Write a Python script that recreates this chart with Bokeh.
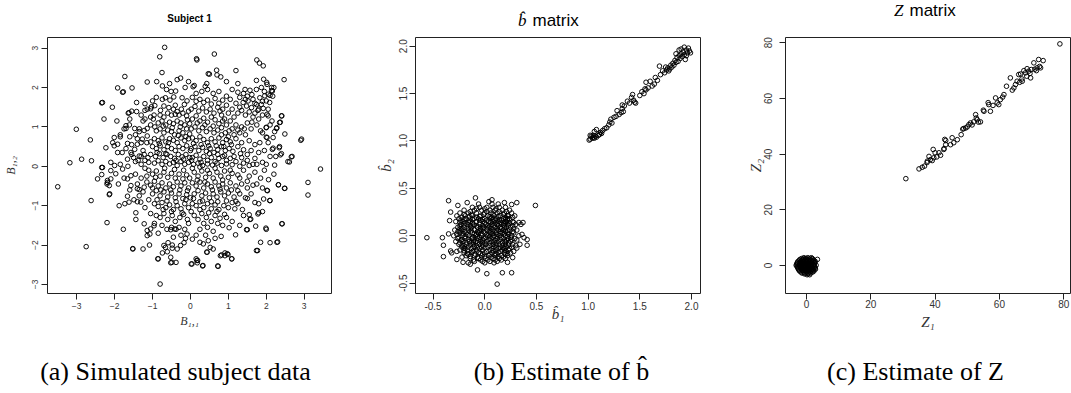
from bokeh.plotting import figure
from bokeh.layouts import row, column
from bokeh.models import FixedTicker, NumeralTickFormatter, Range1d
from bokeh.core.properties import value
from bokeh.embed import file_html
from bokeh.resources import INLINE

# ---------------- data ----------------
subject_points = [
    (-0.68, 3.02), (-0.81, 2.78), (0.16, 2.73), (0.17, 2.70), (0.63, 2.85), (1.75, 2.70), (1.82, 2.62),
    (1.92, 2.55), (-1.73, 2.28), (-0.75, 2.38), (-0.26, 2.24), (-0.35, 2.20), (1.20, 2.43), (0.70, 2.32),
    (0.80, 2.27), (0.50, 2.34), (-1.14, 2.14), (-0.89, 2.15), (0.07, 2.02), (-1.92, 1.99), (-1.54, 1.99),
    (-1.79, 1.88), (2.47, 2.20), (1.93, 2.21), (-2.34, 1.61), (-2.06, 1.50), (-2.28, 1.20), (-3.01, 0.94),
    (-2.64, 0.67), (-3.18, 0.09), (-2.87, 0.18), (-2.61, 0.14), (-3.50, -0.52), (-2.62, -0.87), (-2.34, -0.03),
    (-2.34, -0.21), (-2.19, -0.41), (-2.13, -0.70), (-2.20, -1.43), (-2.75, -2.04), (-1.77, -1.60), (-1.52, -2.09),
    (-1.25, -2.10), (-1.08, -2.00), (-0.86, -2.35), (-0.80, -2.99), (-0.52, -2.31), (-0.49, -2.44), (-0.38, -2.44),
    (0.02, -2.48), (0.32, -2.53), (0.15, -2.35), (0.19, -2.39), (0.72, -2.53), (1.09, -2.35), (0.99, -2.24),
    (0.79, -2.27), (0.44, -2.18), (1.77, -2.14), (2.10, -1.94), (2.30, -1.92), (2.42, -1.46), (2.00, -1.60),
    (1.50, -1.61), (1.59, -1.34), (3.43, -0.07), (3.10, -0.41), (3.10, -0.73), (2.93, 0.69), (2.91, 0.66),
    (2.68, 0.25), (2.61, 0.11), (2.49, -0.56), (2.32, -0.47), (2.10, -0.87), (2.03, -0.62), (2.49, 0.82),
    (2.41, 1.28), (2.37, 1.12), (2.27, 0.96), (2.35, 0.50), (2.37, 0.29), (2.22, 0.03), (2.18, 0.46),
    (2.00, 0.74), (2.00, 0.99), (2.17, 1.78), (2.20, 2.00), (2.14, 1.92), (2.01, 2.13),
    (-0.63, 1.95), (-0.51, 1.90), (-0.39, 1.91), (-0.14, 2.0), (-0.74, 2.04), (-1.77, 1.89), (-2.32, 1.62),
    (-1.64, 1.35), (-1.42, 1.62), (-1.20, 1.59), (-1.03, 1.51), (-0.94, 1.54), (-1.14, 1.45), (-1.0, 1.66),
    (-1.94, 1.15), (-2.01, 0.73), (-1.85, 0.75), (-2.05, 0.60), (-1.92, 0.56), (-1.66, 0.58), (-1.70, 1.03),
    (-1.61, 1.05), (-1.70, 0.96), (-1.47, 0.96), (-1.35, 0.88), (-1.22, 0.91), (-1.14, 0.96), (-1.05, 1.05),
    (-0.94, 1.0), (-1.62, 1.36), (-1.42, 1.39), (-1.20, 1.42), (-1.05, 1.46), (-0.96, 1.30), (-0.79, 1.42),
    (-0.74, 1.70), (-0.66, 1.74), (-0.54, 1.68), (-0.44, 1.76), (-0.70, 1.53), (-0.57, 1.49), (-0.45, 1.45),
    (-0.35, 1.39), (-0.24, 1.45), (-0.16, 1.57), (-0.09, 1.66), (-0.22, 1.74),
    (-0.8, 1.3), (-0.7, 1.25), (-0.6, 1.35), (-0.5, 1.3), (-0.4, 1.32), (-0.3, 1.3), (-0.2, 1.35), (-0.1, 1.28),
    (-0.05, 1.4), (-0.85, 1.1), (-0.75, 1.15), (-0.65, 1.05), (-0.55, 1.12), (-0.45, 1.08), (-0.35, 1.15),
    (-0.25, 1.1), (-0.15, 1.05), (-0.08, 1.18), (-0.9, 0.9), (-0.8, 0.95), (-0.7, 0.85), (-0.6, 0.92),
    (-0.5, 0.88), (-0.42, 0.8), (-0.3, 0.9), (-0.2, 0.85), (-0.1, 0.95), (-0.02, 0.82), (-0.95, 0.7),
    (-0.85, 0.65), (-0.75, 0.72), (-0.65, 0.62), (-0.55, 0.7), (-0.45, 0.66), (-0.35, 0.6), (-0.25, 0.72),
    (-0.15, 0.65), (-0.05, 0.7), (-1.0, 0.5), (-0.9, 0.45), (-0.8, 0.52), (-0.7, 0.42), (-0.6, 0.5),
    (-0.5, 0.45), (-0.4, 0.4), (-0.3, 0.5), (-0.2, 0.45), (-0.1, 0.52), (0.0, 0.4), (-1.05, 0.3), (-0.92, 0.25),
    (-0.82, 0.32), (-0.72, 0.22), (-0.62, 0.3), (-0.52, 0.25), (-0.42, 0.2), (-0.32, 0.3), (-0.22, 0.24),
    (-0.12, 0.3), (-0.02, 0.22), (-1.1, 0.1), (-0.95, 0.08), (-0.85, 0.14), (-0.75, 0.05), (-0.65, 0.12),
    (-0.55, 0.06), (-0.45, 0.1), (-0.35, 0.02), (-0.25, 0.12), (-0.15, 0.05), (-0.05, 0.1),
    (-2.23, 0.47), (-2.01, 0.52), (-1.92, 0.35), (-1.57, 0.35), (-1.47, 0.43), (-1.40, 0.56), (-1.27, 0.69),
    (-1.14, 0.77), (-1.66, 0.18), (-1.50, 0.22), (-1.35, 0.26), (-1.22, 0.30), (-1.8, 0.35), (-1.85, 0.05),
    (-2.0, 0.02), (-2.1, 0.1), (-1.65, 0.0), (-1.45, 0.12), (-1.3, 0.05), (-1.25, 0.4), (-1.15, 0.6),
    (-1.35, 0.95), (-1.45, 0.8), (-1.2, 1.2), (-1.05, 1.25), (-1.55, 1.4), (-1.6, 0.75), (-1.75, 0.95),
    (-1.3, 0.25), (-1.2, 0.15), (-1.55, 0.55),
    (0.10, 2.05), (0.39, 2.03), (0.43, 2.10), (1.74, 2.18), (0.47, 2.35), (0.69, 2.44),
    (1.44, 1.95), (1.57, 1.93), (1.74, 1.95), (1.87, 2.0), (2.02, 2.08), (2.14, 2.0), (2.16, 1.91), (2.05, 1.83),
    (1.96, 1.79), (1.83, 1.74), (1.65, 1.70), (1.52, 1.66), (1.39, 1.62), (1.48, 1.53), (1.61, 1.49),
    (1.74, 1.57), (1.87, 1.57), (2.0, 1.66), (2.09, 1.62), (1.92, 1.47), (1.78, 1.42),
    (1.3, 1.5), (1.25, 1.35), (1.35, 1.42), (1.45, 1.3), (1.55, 1.38), (1.65, 1.25), (1.7, 1.35), (1.8, 1.2),
    (1.9, 1.3), (2.05, 1.28), (2.15, 1.15), (1.15, 1.25), (1.05, 1.15), (1.2, 1.05), (1.35, 1.0), (1.5, 1.1),
    (1.6, 0.95), (1.75, 1.05), (1.85, 0.9), (1.1, 0.95), (0.95, 1.05), (0.9, 1.2), (1.0, 1.35), (1.1, 1.45),
    (1.2, 1.6), (1.05, 1.7), (0.95, 1.55), (0.85, 1.45), (1.3, 1.75), (1.4, 1.85), (1.5, 1.78), (1.62, 1.82),
    (1.95, 1.9), (2.1, 1.8), (1.9, 1.65), (1.7, 1.6), (2.05, 1.45),
    (2.02, 1.32), (2.40, 1.28), (2.35, 1.11), (2.28, 0.98), (2.22, 0.88), (2.0, 0.98), (2.18, 0.73),
    (2.02, 0.73), (1.83, 0.60), (2.34, 0.47), (2.16, 0.43), (2.66, 0.24), (2.57, 0.12), (2.40, 0.32),
    (0.05, 1.75), (0.15, 1.65), (0.25, 1.7), (0.35, 1.62), (0.45, 1.68), (0.55, 1.58), (0.65, 1.72),
    (0.75, 1.6), (0.85, 1.68), (0.95, 1.78), (0.6, 1.85), (0.3, 1.9), (0.02, 1.45), (0.12, 1.52), (0.22, 1.4),
    (0.32, 1.48), (0.42, 1.38), (0.52, 1.45), (0.62, 1.35), (0.72, 1.5), (0.82, 1.3), (0.78, 1.4),
    (0.05, 1.2), (0.15, 1.28), (0.25, 1.15), (0.35, 1.22), (0.45, 1.12), (0.55, 1.25), (0.65, 1.18),
    (0.75, 1.08), (0.85, 1.15), (0.02, 0.95), (0.12, 1.0), (0.22, 0.9), (0.32, 0.98), (0.42, 0.88),
    (0.52, 0.95), (0.62, 0.85), (0.72, 0.92), (0.82, 0.98), (0.92, 0.85), (1.02, 0.9), (1.15, 0.8),
    (1.3, 0.85), (1.45, 0.8), (0.05, 0.72), (0.15, 0.65), (0.25, 0.75), (0.35, 0.68), (0.45, 0.6),
    (0.55, 0.7), (0.65, 0.62), (0.75, 0.72), (0.85, 0.6), (0.95, 0.68), (1.05, 0.62), (1.2, 0.7),
    (1.35, 0.6), (1.55, 0.65), (1.7, 0.55), (0.02, 0.45), (0.12, 0.5), (0.22, 0.4), (0.32, 0.48),
    (0.42, 0.38), (0.52, 0.45), (0.62, 0.35), (0.72, 0.42), (0.82, 0.5), (0.92, 0.4), (1.02, 0.45),
    (1.12, 0.38), (1.25, 0.5), (1.4, 0.42), (1.6, 0.4), (1.8, 0.35), (0.05, 0.22), (0.15, 0.28),
    (0.25, 0.18), (0.35, 0.25), (0.45, 0.15), (0.55, 0.22), (0.65, 0.12), (0.75, 0.2), (0.85, 0.25),
    (0.95, 0.15), (1.05, 0.2), (1.2, 0.12), (1.35, 0.22), (1.5, 0.15), (1.7, 0.2), (1.9, 0.1),
    (0.08, 0.05), (0.2, 0.08), (0.32, 0.02), (0.45, 0.06), (0.58, 0.03), (0.7, 0.08), (0.82, 0.02),
    (0.95, 0.06), (1.1, 0.04), (1.3, 0.0), (1.55, 0.02), (1.75, 0.05), (2.0, 0.05),
    (-2.14, -0.72), (-1.52, -2.10), (-0.85, -2.35), (-0.52, -2.45), (-0.74, -2.20), (-0.61, -2.17),
    (-0.48, -2.08), (-0.35, -2.10), (-0.26, -2.01), (-0.17, -1.94), (-0.13, -1.83), (-0.09, -1.72),
    (-0.70, -2.01), (-0.59, -1.94), (-0.48, -2.0), (-0.66, -2.06), (-1.22, -1.46), (-1.14, -1.63),
    (-1.05, -1.59), (-0.96, -1.51), (-1.14, -1.76), (-1.07, -1.72), (-0.52, -1.61), (-0.42, -1.59),
    (-1.44, -1.18), (-1.44, -1.35), (-1.88, -1.0), (-1.73, -0.95), (-1.62, -0.91), (-1.49, -0.85),
    (-1.40, -0.90), (-1.31, -0.91), (-1.66, -0.76), (-2.19, -0.36), (-2.20, -0.45), (-2.14, -0.49),
    (-2.10, -0.32), (-2.45, -0.32), (-2.32, -0.03), (-2.10, -0.11), (-1.97, -0.19), (-1.79, -0.07),
    (-1.66, -0.32), (-1.57, -0.24), (-1.40, -0.57), (-1.35, -0.59), (-1.22, -0.53), (-1.57, -0.49),
    (-1.1, -0.1), (-1.0, -0.2), (-0.9, -0.12), (-0.8, -0.25), (-0.7, -0.15), (-0.6, -0.28), (-0.5, -0.18),
    (-0.4, -0.3), (-0.3, -0.2), (-0.2, -0.32), (-0.1, -0.22), (-0.02, -0.3), (-1.15, -0.4), (-1.05, -0.48),
    (-0.95, -0.38), (-0.85, -0.5), (-0.75, -0.42), (-0.65, -0.55), (-0.55, -0.45), (-0.45, -0.52),
    (-0.35, -0.4), (-0.25, -0.5), (-0.15, -0.42), (-0.05, -0.55), (-1.0, -0.7), (-0.9, -0.62), (-0.8, -0.75),
    (-0.7, -0.65), (-0.6, -0.78), (-0.5, -0.68), (-0.4, -0.8), (-0.3, -0.7), (-0.2, -0.82), (-0.1, -0.72),
    (0.0, -0.8), (-0.95, -0.95), (-0.85, -1.02), (-0.75, -0.92), (-0.65, -1.05), (-0.55, -0.98),
    (-0.45, -1.1), (-0.35, -1.0), (-0.25, -1.08), (-0.15, -0.95), (-0.05, -1.05), (-0.9, -1.25),
    (-0.8, -1.3), (-0.7, -1.2), (-0.6, -1.35), (-0.48, -1.25), (-0.4, -1.4), (-0.28, -1.3), (-0.18, -1.22),
    (-0.08, -1.35), (-1.2, -0.05), (-1.3, -0.3), (-1.4, -0.45), (-1.25, -0.65), (-1.35, -0.75),
    (-1.1, -0.85), (-1.2, -1.05), (-1.05, -1.2), (-0.95, -1.45), (-0.75, -1.5), (-0.5, -1.55), (-0.3, -1.55),
    (-0.15, -1.6), (-0.45, -1.8), (-0.25, -1.75),
    (2.06, -0.34), (2.32, -0.47), (2.48, -0.56), (2.02, -0.61), (1.93, -0.83), (2.09, -0.87), (1.80, -0.95),
    (1.80, -1.18), (2.41, -1.46), (2.28, -1.93), (1.74, -2.14), (1.85, -1.93), (1.99, -1.57), (1.72, -1.52),
    (1.48, -1.61), (1.57, -1.35), (1.19, -1.74), (1.09, -2.35), (0.73, -2.54), (1.02, -1.56), (0.81, -1.78),
    (0.82, -2.25), (0.91, -2.20), (0.97, -2.22), (0.91, -2.27), (0.17, -2.39), (0.18, -2.45), (0.33, -2.52),
    (0.04, -2.48), (0.43, -2.18), (0.52, -2.06), (0.60, -2.10), (0.34, -1.97), (0.25, -1.93), (0.47, -1.89),
    (0.65, -1.83), (1.17, -1.08), (1.37, -1.10), (1.55, -1.23), (1.78, -1.21), (1.70, -0.92), (1.50, -0.82),
    (1.20, -0.89),
    (0.1, -0.15), (0.2, -0.25), (0.3, -0.12), (0.4, -0.28), (0.5, -0.18), (0.6, -0.3), (0.7, -0.15),
    (0.8, -0.25), (0.9, -0.12), (1.0, -0.28), (1.1, -0.18), (1.25, -0.22), (1.4, -0.1), (1.55, -0.25),
    (1.7, -0.15), (0.05, -0.42), (0.15, -0.5), (0.25, -0.4), (0.35, -0.55), (0.45, -0.45), (0.55, -0.52),
    (0.65, -0.4), (0.75, -0.5), (0.85, -0.45), (0.95, -0.55), (1.05, -0.42), (1.2, -0.5), (1.35, -0.45),
    (1.5, -0.55), (1.65, -0.48), (0.1, -0.7), (0.2, -0.62), (0.3, -0.75), (0.4, -0.68), (0.5, -0.8),
    (0.6, -0.7), (0.7, -0.78), (0.8, -0.65), (0.9, -0.75), (1.0, -0.68), (1.15, -0.78), (1.3, -0.7),
    (1.45, -0.8), (0.05, -0.95), (0.15, -1.0), (0.25, -0.9), (0.35, -1.05), (0.45, -0.95), (0.55, -1.08),
    (0.65, -0.98), (0.75, -1.1), (0.88, -1.0), (1.0, -1.05), (1.1, -0.92), (0.1, -1.25), (0.2, -1.35),
    (0.3, -1.2), (0.42, -1.3), (0.55, -1.4), (0.65, -1.25), (0.78, -1.32), (0.9, -1.22), (0.45, -1.55),
    (0.25, -1.6), (0.6, -1.65), (0.15, -1.75), (0.85, -1.5),
    (-1.25, 1.15), (-0.98, 1.2), (-0.72, 1.02), (-0.48, 0.98), (-0.27, 1.0), (-0.02, 1.08), (0.18, 1.1),
    (0.38, 1.05), (0.6, 1.02), (0.82, 0.8), (1.0, 0.75), (1.25, 0.92), (1.42, 0.95), (1.62, 1.12),
    (1.8, 1.45), (1.45, 1.7), (1.25, 1.88), (-1.3, 0.6), (-1.05, 0.62), (-0.82, 0.58), (-0.58, 0.6),
    (-0.32, 0.78), (-0.12, 0.75), (0.08, 0.58), (0.28, 0.55), (0.48, 0.52), (0.68, 0.52), (0.88, 0.5),
    (1.08, 0.55), (1.32, 0.32), (1.5, 0.3), (1.65, 0.05), (-1.38, 0.15), (-1.12, 0.22), (-0.88, 0.35),
    (-0.65, 0.32), (-0.38, 0.15), (-0.18, 0.18), (0.03, 0.15), (0.28, 0.1), (0.5, 0.32), (0.72, 0.3),
    (0.9, 0.28), (1.15, 0.25), (1.4, 0.08), (-1.15, -0.25), (-0.92, -0.28), (-0.68, -0.05), (-0.42, -0.08),
    (-0.18, -0.1), (0.05, -0.05), (0.25, -0.02), (0.45, -0.1), (0.65, -0.05), (0.85, -0.35), (1.05, -0.1),
    (1.3, -0.3), (1.5, -0.38), (-1.0, -0.55), (-0.78, -0.6), (-0.52, -0.6), (-0.28, -0.6), (-0.08, -0.62),
    (0.18, -0.35), (0.38, -0.4), (0.58, -0.6), (0.78, -0.58), (1.08, -0.6), (1.25, -0.62), (-0.88, -0.85),
    (-0.62, -0.88), (-0.38, -0.9), (-0.12, -0.85), (0.08, -0.82), (0.32, -0.88), (0.55, -0.9), (0.72, -0.9),
    (0.95, -0.88), (1.25, -0.95), (-0.72, -1.1), (-0.5, -1.15), (-0.22, -1.18), (0.02, -1.15), (0.25, -1.1),
    (0.48, -1.18), (0.7, -1.15), (0.95, -1.3), (1.1, -1.4), (-0.62, -1.6), (-0.38, -1.6), (-0.05, -1.45),
    (0.35, -1.45), (0.72, -1.45), (-0.85, -1.7), (0.05, -1.85), (0.4, -1.75), (-1.45, -0.2), (-1.6, -0.6),
    (-1.75, -0.3), (-1.9, -0.45), (-1.55, 0.3), (-1.7, 0.45), (-1.85, 0.8), (-1.4, 0.7), (-1.6, 1.2),
    (-1.3, 1.3), (-0.9, 1.75), (-0.4, 1.55), (0.15, 1.85), (0.45, 1.95), (0.75, 1.9), (1.1, 1.95),
    (1.25, 2.1), (0.95, 2.15), (-0.05, 2.15), (-0.55, 2.1), (1.85, -0.3), (1.95, -0.1), (1.75, -0.45),
    (1.6, -0.7), (1.9, -0.55), (1.4, -1.25), (1.3, -1.5), (1.9, -1.15), (2.2, -0.2), (2.25, 0.25),
    (2.1, 0.25), (1.95, 0.4), (2.05, 0.6), (1.9, 0.85), (2.1, 1.05),
]

b_outer_points = [
    (-0.56, -0.02), (-0.41, -0.02), (-0.40, -0.22), (-0.40, -0.10), (-0.35, 0.37), (-0.33, 0.25),
    (-0.34, 0.16), (-0.35, 0.02), (-0.33, -0.16), (-0.32, -0.18), (-0.26, 0.32), (-0.09, 0.40),
    (-0.17, 0.35), (0.07, 0.38), (0.04, 0.36), (0.19, 0.35), (0.26, 0.33), (0.31, 0.35), (0.49, 0.32),
    (0.33, 0.14), (0.35, 0.12), (0.37, 0.14), (0.38, -0.02), (0.41, -0.04), (0.41, -0.10), (0.31, -0.13),
    (0.27, -0.23), (0.22, -0.28), (0.17, -0.39), (0.26, -0.39), (0.12, -0.51), (0.02, -0.40),
    (-0.07, -0.36), (-0.14, -0.30), (-0.21, -0.28), (-0.27, -0.25), (0.23, 0.21), (0.22, 0.18), (0.28, 0.14),
]
b_core_rows = [
    (0.335, [-0.06, 0.07, 0.13]),
    (0.30, [-0.12, -0.05, 0.02, 0.08, 0.14, 0.2]),
    (0.285, [-0.08, 0.0, 0.11]),
    (0.27, [-0.2, -0.1, -0.03, 0.05, 0.1, 0.17, 0.24]),
    (0.255, [-0.14, 0.02, 0.14, 0.21]),
    (0.24, [-0.24, -0.16, -0.08, 0.0, 0.06, 0.12, 0.19, 0.26]),
    (0.225, [-0.2, -0.13, -0.01, 0.08, 0.18]),
    (0.21, [-0.27, -0.19, -0.12, -0.04, 0.03, 0.09, 0.15, 0.22, 0.29]),
    (0.2025, [-0.15, -0.05, 0.05, 0.13]),
    (0.195, [-0.22, -0.08, 0.07, 0.2, 0.27]),
    (0.18, [-0.25, -0.18, -0.1, -0.06, 0.0, 0.05, 0.11, 0.18, 0.24]),
    (0.1725, [-0.2, -0.12, -0.02, 0.08, 0.14, 0.2]),
    (0.165, [-0.23, -0.15, -0.04, 0.02, 0.1, 0.16, 0.22]),
    (0.15, [-0.28, -0.21, -0.14, -0.08, -0.02, 0.04, 0.08, 0.13, 0.2, 0.27]),
    (0.1425, [-0.24, -0.16, -0.05, 0.06, 0.15, 0.21]),
    (0.135, [-0.19, -0.12, 0.0, 0.1, 0.18, 0.24]),
    (0.12, [-0.23, -0.17, -0.11, -0.05, 0.01, 0.07, 0.12, 0.16, 0.22, 0.3]),
    (0.1125, [-0.2, -0.1, 0.03, 0.09, 0.18, 0.23]),
    (0.105, [-0.24, -0.14, -0.08, -0.02, 0.05, 0.13, 0.19, 0.27]),
    (0.09, [-0.26, -0.2, -0.13, -0.07, -0.01, 0.04, 0.1, 0.15, 0.21, 0.25]),
    (0.0825, [-0.22, -0.16, -0.04, 0.03, 0.12, 0.19]),
    (0.075, [-0.24, -0.14, -0.02, 0.06, 0.16, 0.28]),
    (0.06, [-0.29, -0.22, -0.16, -0.1, -0.04, 0.02, 0.08, 0.13, 0.18, 0.24, 0.31]),
    (0.0525, [-0.24, -0.13, -0.05, 0.05, 0.11, 0.22]),
    (0.045, [-0.26, -0.19, -0.07, -0.01, 0.07, 0.15, 0.2, 0.27]),
    (0.03, [-0.24, -0.18, -0.12, -0.06, 0.0, 0.05, 0.11, 0.17, 0.22, 0.28]),
    (0.0225, [-0.21, -0.1, -0.03, 0.07, 0.15, 0.19]),
    (0.015, [-0.27, -0.17, -0.08, 0.02, 0.12, 0.23, 0.36]),
    (0.00, [-0.3, -0.22, -0.15, -0.09, -0.03, 0.03, 0.09, 0.14, 0.2, 0.26, 0.33]),
    (-0.0075, [-0.19, -0.07, 0.05, 0.11, 0.22]),
    (-0.015, [-0.25, -0.12, -0.05, 0.01, 0.08, 0.16, 0.25]),
    (-0.03, [-0.26, -0.19, -0.13, -0.07, -0.01, 0.06, 0.12, 0.18, 0.23, 0.29]),
    (-0.0375, [-0.22, -0.16, -0.04, 0.04, 0.15, 0.26]),
    (-0.045, [-0.23, -0.11, -0.02, 0.1, 0.21, 0.31]),
    (-0.06, [-0.28, -0.21, -0.15, -0.09, -0.04, 0.02, 0.07, 0.13, 0.19, 0.25]),
    (-0.0675, [-0.18, -0.11, -0.02, 0.09, 0.2]),
    (-0.075, [-0.24, -0.13, -0.07, 0.0, 0.05, 0.11, 0.17, 0.23]),
    (-0.09, [-0.25, -0.18, -0.11, -0.05, 0.01, 0.08, 0.14, 0.2, 0.27, 0.34]),
    (-0.0975, [-0.22, -0.14, -0.02, 0.11, 0.23]),
    (-0.105, [-0.2, -0.08, 0.05, 0.17, 0.3]),
    (-0.12, [-0.22, -0.16, -0.1, -0.03, 0.03, 0.09, 0.15, 0.21, 0.26]),
    (-0.1275, [-0.2, -0.07, 0.0, 0.11, 0.18]),
    (-0.135, [-0.19, -0.13, -0.05, 0.07, 0.13, 0.19, 0.24]),
    (-0.15, [-0.24, -0.17, -0.08, -0.02, 0.05, 0.11, 0.17, 0.23]),
    (-0.1575, [-0.2, -0.11, 0.08, 0.2]),
    (-0.165, [-0.27, -0.12, 0.02, 0.15, 0.28]),
    (-0.18, [-0.2, -0.13, -0.06, 0.0, 0.07, 0.13, 0.19, 0.25]),
    (-0.1875, [-0.17, -0.04, 0.1, 0.22]),
    (-0.195, [-0.16, -0.09, -0.02, 0.05, 0.11, 0.2]),
    (-0.21, [-0.18, -0.1, -0.03, 0.04, 0.1, 0.16, 0.22]),
    (-0.2175, [-0.14, 0.0, 0.13]),
    (-0.225, [-0.22, -0.07, 0.06, 0.18]),
    (-0.24, [-0.14, -0.06, 0.01, 0.08, 0.14, 0.2]),
    (-0.255, [-0.11, -0.04, 0.03, 0.1, 0.16]),
    (-0.27, [-0.1, -0.02, 0.05, 0.12]),
    (-0.285, [-0.16, 0.0, 0.09]),
]
b_line_points = [
    (1.01, 1.01), (1.02, 1.02), (1.03, 1.05), (1.04, 1.03), (1.05, 1.04), (1.05, 1.06), (1.06, 1.03),
    (1.07, 1.05), (1.08, 1.04), (1.08, 1.12), (1.10, 1.06), (1.11, 1.07), (1.12, 1.09), (1.13, 1.08),
    (1.02, 1.06), (1.06, 1.10), (1.14, 1.11), (1.16, 1.13), (1.18, 1.14), (1.20, 1.17), (1.21, 1.20),
    (1.22, 1.23), (1.23, 1.19), (1.25, 1.25), (1.27, 1.26), (1.28, 1.32), (1.30, 1.28), (1.32, 1.30),
    (1.33, 1.34), (1.34, 1.31), (1.35, 1.37), (1.33, 1.38), (1.38, 1.42), (1.40, 1.40), (1.42, 1.46),
    (1.43, 1.49), (1.44, 1.43), (1.45, 1.41), (1.46, 1.40), (1.50, 1.48), (1.52, 1.52), (1.54, 1.50),
    (1.55, 1.55), (1.56, 1.54), (1.58, 1.56), (1.60, 1.63), (1.62, 1.58), (1.64, 1.60), (1.65, 1.67),
    (1.67, 1.64), (1.70, 1.70), (1.72, 1.74), (1.74, 1.72), (1.75, 1.78), (1.76, 1.75), (1.77, 1.77),
    (1.78, 1.74), (1.79, 1.76), (1.80, 1.80), (1.81, 1.78), (1.82, 1.82), (1.83, 1.80), (1.84, 1.85),
    (1.85, 1.83), (1.86, 1.88), (1.87, 1.84), (1.88, 1.90), (1.89, 1.87), (1.90, 1.92), (1.90, 1.97),
    (1.91, 1.89), (1.92, 1.94), (1.93, 1.99), (1.93, 1.91), (1.94, 1.86), (1.95, 1.96), (1.96, 1.93),
    (1.97, 1.98), (1.98, 1.95), (1.99, 1.93), (1.69, 1.79), (1.56, 1.62), (1.85, 1.92), (1.88, 1.96),
    (1.95, 1.90),
]

z_core_rows = [
    (2.8, [-0.8, 0.4, 1.5]),
    (2.5, [-1.5, -0.4, 0.7, 1.8]),
    (2.2, [-2.0, -1.0, 0.0, 1.0, 2.0, 3.4]),
    (1.85, [-2.2, -1.3, -0.4, 0.5, 1.4, 2.3]),
    (1.5, [-2.6, -1.7, -0.8, 0.1, 1.0, 1.9, 2.7]),
    (1.15, [-2.8, -1.9, -1.0, -0.1, 0.8, 1.7, 2.6]),
    (0.8, [-2.9, -2.0, -1.1, -0.2, 0.7, 1.6, 2.5]),
    (0.45, [-3.0, -2.1, -1.2, -0.3, 0.6, 1.5, 2.4]),
    (0.1, [-3.2, -2.3, -1.4, -0.5, 0.4, 1.3, 2.2, 3.0]),
    (-0.25, [-2.9, -2.0, -1.1, -0.2, 0.7, 1.6, 2.5]),
    (-0.6, [-2.8, -1.9, -1.0, -0.1, 0.8, 1.7, 2.6]),
    (-0.95, [-2.6, -1.7, -0.8, 0.1, 1.0, 1.9, 2.7]),
    (-1.3, [-2.5, -1.6, -0.7, 0.2, 1.1, 2.0, 2.8]),
    (-1.65, [-2.3, -1.4, -0.5, 0.4, 1.3, 2.2]),
    (-2.0, [-2.1, -1.2, -0.3, 0.6, 1.5, 2.3]),
    (-2.35, [-1.7, -0.8, 0.1, 1.0, 1.9]),
    (-2.7, [-1.4, -0.5, 0.4, 1.3]),
    (-3.0, [-0.6, 0.5]),
    (-3.3, [0.2, 1.0]),
]
z_line_points = [
    (30.9, 31.2), (78.8, 79.6), (35.0, 34.7), (36.0, 35.3), (36.7, 35.7), (37.6, 37.5), (39.1, 37.7),
    (39.6, 38.7), (38.1, 39.2), (39.4, 41.7), (41.2, 40.5), (41.7, 39.6), (42.7, 41.7), (43.3, 43.4),
    (43.3, 44.9), (44.8, 43.4), (45.8, 44.1), (45.3, 45.9), (46.9, 45.2), (48.1, 47.0), (48.9, 49.2),
    (49.5, 49.4), (50.5, 50.6), (51.0, 51.2), (52.0, 51.6), (53.1, 52.4), (52.6, 54.2), (54.1, 51.6),
    (55.2, 55.4), (56.7, 57.8), (57.2, 55.4), (58.8, 60.2), (59.3, 58.4), (60.3, 59.6), (61.4, 61.4),
    (59.8, 57.8), (62.2, 64.4), (63.4, 67.4), (64.5, 63.8), (65.0, 65.0), (65.5, 66.2), (66.0, 68.6),
    (67.1, 66.2), (68.1, 69.2), (69.1, 69.8), (69.7, 67.4), (70.7, 72.8), (71.7, 71.0), (72.2, 74.0),
    (72.8, 71.0), (73.6, 73.6), (66.6, 68.8), (67.6, 70.0), (68.6, 70.7), (69.9, 70.4),
    (37.5, 37.0), (40.5, 39.0), (42.8, 42.0), (43.0, 45.3), (48.6, 49.0), (50.0, 49.8), (51.5, 50.5),
    (52.8, 53.0), (53.5, 51.5), (55.0, 55.8), (56.5, 58.5), (58.0, 57.5), (61.0, 60.5), (64.0, 63.0),
    (66.3, 65.8), (67.0, 67.0), (68.5, 68.0), (69.5, 69.0), (71.0, 70.5), (72.5, 71.5), (71.5, 70.0),
    (38.5, 38.0), (40.0, 40.5),
]

captions = ["(a) Simulated subject data", "(b) Estimate of b̂", "(c) Estimate of Z"]

# -------- build coordinate columns --------
sx = [p[0] for p in subject_points]
sy = [p[1] for p in subject_points]

bx = [p[0] for p in b_outer_points] + [x for y, xs in b_core_rows for x in xs] + [p[0] for p in b_line_points]
by = [p[1] for p in b_outer_points] + [y for y, xs in b_core_rows for x in xs] + [p[1] for p in b_line_points]

zx = [x for y, xs in z_core_rows for x in xs] + [p[0] for p in z_line_points]
zy = [y for y, xs in z_core_rows for x in xs] + [p[1] for p in z_line_points]

W = 1071
TOP_H, ROW_H, CAP_H = 30, 320, 43


def strip(height):
    s = figure(width=W, height=height, x_range=Range1d(0, W), y_range=Range1d(0, height),
               output_backend="svg", toolbar_location=None, title=None,
               min_border_left=0, min_border_right=0, min_border_top=0, min_border_bottom=0)
    s.axis.visible = False
    s.grid.visible = False
    s.outline_line_color = None
    return s


def panel(xr, yr, xticks, yticks, fmt, xlabel, ylabel, label_size, tick_size,
          tick_standoff, xlab_standoff, ylab_standoff, borders, xs, ys):
    left, right, top, bottom = borders
    p = figure(width=357, height=ROW_H, x_range=Range1d(*xr), y_range=Range1d(*yr),
               output_backend="svg", toolbar_location=None, title=None,
               min_border_left=left, min_border_right=right,
               min_border_top=top, min_border_bottom=bottom)
    p.grid.visible = False
    p.outline_line_color = "#222222"
    p.outline_line_width = 1
    for ax, ticks, so in ((p.xaxis, xticks, tick_standoff[0]), (p.yaxis, yticks, tick_standoff[1])):
        ax.ticker = FixedTicker(ticks=ticks)
        ax.minor_tick_line_color = None
        ax.axis_line_color = None
        ax.major_tick_out = 6
        ax.major_tick_in = 0
        ax.major_tick_line_color = "#222222"
        ax.major_label_text_font = "Liberation Sans"
        ax.major_label_text_font_size = tick_size
        ax.major_label_text_color = "#333333"
        ax.major_label_standoff = so
        ax.axis_label_text_font = "Liberation Serif"
        ax.axis_label_text_font_style = "italic"
        ax.axis_label_text_font_size = label_size
        ax.axis_label_text_color = "#333333"
        if fmt:
            ax.formatter = NumeralTickFormatter(format=fmt)
    p.xaxis.axis_label_standoff = xlab_standoff
    p.yaxis.axis_label_standoff = ylab_standoff
    p.xaxis.axis_label = xlabel
    p.yaxis.axis_label = ylabel
    p.yaxis.major_label_orientation = "vertical"
    p.scatter(xs, ys, marker="circle", size=4.6, fill_color=None,
              line_color="black", line_width=0.95)
    return p


p1 = panel((-3.77, 3.72), (-3.23, 3.27), [-3, -2, -1, 0, 1, 2, 3], [-3, -2, -1, 0, 1, 2, 3], None,
           "B₁,₁", "B₁,₂", "12px", "8.5px", (3, 3), 2, 12, (46, 26, 7, 57), sx, sy)
p2 = panel((-0.67, 2.087), (-0.609, 2.092), [-0.5, 0, 0.5, 1, 1.5, 2], [-0.5, 0, 0.5, 1, 1.5, 2], "0.0",
           "b̂₁", "b̂₂", "15px", "10px", (2, 2), -7, 3, (58, 14, 7, 57), bx, by)
p3 = panel((-6.52, 82.1), (-10.05, 81.9), [0, 20, 40, 60, 80], [0, 20, 40, 60, 80], None,
           "Z₁", "Z₂", "15px", "10px", (0, 7), 3, -2, (71, 1, 7, 57), zx, zy)

# titles strip (texts placed over the panel centres)
top = strip(TOP_H)
top.text(x=[189], y=[TOP_H - 18], text=["Subject 1"], text_align="center", text_baseline="middle",
         text_font=value("Liberation Sans"), text_font_style="bold", text_font_size="10px",
         text_color="black")
top.text(x=[526, 903], y=[TOP_H - 20, TOP_H - 10], text=["b̂", "Z"], text_align="right",
         text_baseline="middle", text_font=value("Liberation Serif"), text_font_style="italic",
         text_font_size="17px", text_color="black")
top.text(x=[532, 909], y=[TOP_H - 20, TOP_H - 10], text=["matrix", "matrix"], text_align="left",
         text_baseline="middle", text_font=value("Liberation Sans"), text_font_size="17px",
         text_color="black")

# captions strip
cap = strip(CAP_H)
cap.text(x=[175, 561, 915], y=[393 - 371] * 3, text=captions, text_align="center",
         text_baseline="middle", text_font=value("Liberation Serif"), text_font_size="26px",
         text_color="black")

layout = column(top, row(p1, p2, p3), cap)
open("out.html", "w").write(file_html(layout, INLINE))
